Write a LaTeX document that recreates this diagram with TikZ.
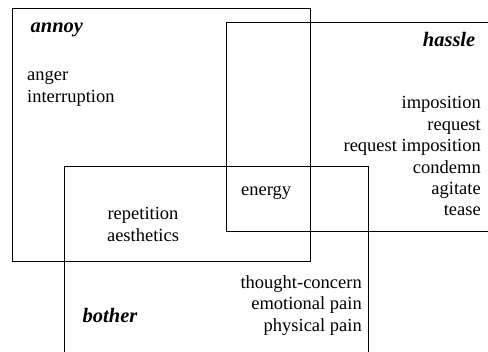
\documentclass[tikz,border=0pt]{standalone}
\usepackage{fontspec}
\setmainfont{Liberation Serif}
\newfontfamily\tms{Liberation Serif}
\begin{document}
\begin{tikzpicture}[x=1pt,y=-1pt,
  boxline/.style={draw=black,line width=0.8pt},
  word/.style={inner sep=0pt,font=\tms\fontsize{18.5}{21.4}\selectfont},
  title/.style={inner sep=0pt,font=\tms\fontsize{20.5}{23}\selectfont\bfseries\itshape}]
\useasboundingbox (0,0) rectangle (488,352);
\clip (0,0) rectangle (488,352);
\fill[white] (0,0) rectangle (488,352);
% boxes
\draw[boxline] (12,8) rectangle (310,261);
\draw[boxline] (226.5,22) rectangle (495,231);
\draw[boxline] (64.5,166) rectangle (368.5,362);
% titles
\node[title,anchor=base west] (annoy) at (30.5,33) {annoy};
\node[title,anchor=base east] (hassle) at (475.5,47) {hassle};
\node[title,anchor=base west] (bother) at (82.5,323) {bother};
% annoy only
\node[word,anchor=base west] (anger) at (27,81) {anger};
\node[word,anchor=base west] (interr) at (27,102.4) {interruption};
% hassle only
\node[word,anchor=base east] (impo) at (481,109) {imposition};
\node[word,anchor=base east] (req) at (481,130.4) {request};
\node[word,anchor=base east] (reqimp) at (481,151.8) {request imposition};
\node[word,anchor=base east] (cond) at (481,173.2) {condemn};
\node[word,anchor=base east] (agit) at (481,194.6) {agitate};
\node[word,anchor=base east] (tease) at (481,216) {tease};
% centre
\node[word,anchor=base west] (energy) at (241,196) {energy};
% annoy & bother
\node[word,anchor=base] (rep) at (143,220) {repetition};
\node[word,anchor=base] (aes) at (143,241.4) {aesthetics};
% bother only
\node[word,anchor=base east] (tc) at (362,288.3) {thought-concern};
\node[word,anchor=base east] (ep) at (362,309.7) {emotional pain};
\node[word,anchor=base east] (pp) at (362,331.1) {physical pain};
\end{tikzpicture}
\end{document}
